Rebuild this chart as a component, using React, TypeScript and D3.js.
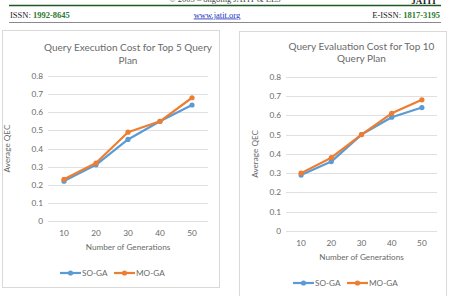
import React from 'react';
import * as d3 from 'd3';

// generations on the x axis
const generations = ['10', '20', '30', '40', '50'];
const yTicks = [0, 0.1, 0.2, 0.3, 0.4, 0.5, 0.6, 0.7, 0.8];

// Top 5 query plans
const top5SoGa = [0.22, 0.31, 0.45, 0.55, 0.64];
const top5MoGa = [0.23, 0.32, 0.49, 0.55, 0.68];

// Top 10 query plans
const top10SoGa = [0.29, 0.36, 0.50, 0.59, 0.64];
const top10MoGa = [0.30, 0.38, 0.50, 0.61, 0.68];

const seriesNames = ['SO-GA', 'MO-GA'];
const seriesColors = ['#5B9BD5', '#ED7D31'];

const FONT = 'Lato, "Open Sans", sans-serif';
const AXIS_GREY = '#6a6a6a';

type ChartProps = {
  box: { x: number; y: number; w: number; h: number };
  titleLines: string[];
  titleY: number[];
  plot: { left: number; right: number; top: number; bottom: number };
  xLabelY: number;
  xTitleY: number;
  yTitleX: number;
  legendY: number;
  legendX: number;
  series: number[][];
};

function LineChart(p: ChartProps) {
  const x = d3.scaleBand().domain(generations).range([p.plot.left, p.plot.right]);
  const y = d3.scaleLinear().domain([0, 0.8]).range([p.plot.bottom, p.plot.top]);
  const cx = (g: string) => (x(g) ?? 0) + x.bandwidth() / 2;
  const line = d3.line<number>().x((_, i) => cx(generations[i])).y(d => y(d));
  const midX = (p.plot.left + p.plot.right) / 2;

  return (
    <g>
      <rect x={p.box.x} y={p.box.y} width={p.box.w} height={p.box.h} fill="#fff" stroke="#d9d9d9" strokeWidth={1} />
      {p.titleLines.map((t, i) => (
        <text key={t} x={midX} y={p.titleY[i]} textAnchor="middle" fontFamily={FONT} fontSize={10} fill={AXIS_GREY}>{t}</text>
      ))}
      {yTicks.map(t => (
        <g key={t}>
          <line x1={p.plot.left} x2={p.plot.right} y1={Math.round(y(t)) + 0.5} y2={Math.round(y(t)) + 0.5} stroke="#e0e0e0" strokeWidth={1} />
          <text x={p.plot.left - 5} y={y(t) + 3} textAnchor="end" fontFamily={FONT} fontSize={8.3} fill={AXIS_GREY}>{t}</text>
        </g>
      ))}
      {generations.map(g => (
        <text key={g} x={cx(g)} y={p.xLabelY} textAnchor="middle" fontFamily={FONT} fontSize={8.3} fill={AXIS_GREY}>{g}</text>
      ))}
      <text x={midX} y={p.xTitleY} textAnchor="middle" fontFamily={FONT} fontSize={8.2} fill={AXIS_GREY}>Number of Generations</text>
      <text transform={`translate(${p.yTitleX},${(p.plot.top + p.plot.bottom) / 2}) rotate(-90)`} textAnchor="middle" fontFamily={FONT} fontSize={8.2} fill={AXIS_GREY}>Average QEC</text>
      {p.series.map((s, si) => (
        <g key={si}>
          <path d={line(s) ?? ''} fill="none" stroke={seriesColors[si]} strokeWidth={2.2} strokeLinejoin="round" />
          {s.map((v, i) => (
            <circle key={i} cx={cx(generations[i])} cy={y(v)} r={2.6} fill={seriesColors[si]} />
          ))}
        </g>
      ))}
      {seriesNames.map((n, i) => {
        const lx = p.legendX + i * 54;
        return (
          <g key={n}>
            <line x1={lx} x2={lx + 21} y1={p.legendY} y2={p.legendY} stroke={seriesColors[i]} strokeWidth={2.2} />
            <circle cx={lx + 10.5} cy={p.legendY} r={2.6} fill={seriesColors[i]} />
            <text x={lx + 22} y={p.legendY + 3} fontFamily={FONT} fontSize={8.2} fill={AXIS_GREY}>{n}</text>
          </g>
        );
      })}
    </g>
  );
}

export default function App() {
  return (
    <div style={{ position: 'fixed', left: 0, top: 0 }}>
      <svg width={452} height={296} style={{ display: 'block', background: '#fff' }}>
        {/* journal page header, top edge trimmed */}
        <text x={225} y={2} textAnchor="middle" fontFamily='"Liberation Serif", serif' fontSize={8.5} fill="#444">© 2005 – ongoing JATIT &amp; LLS</text>
        <text x={437} y={3.5} textAnchor="end" fontFamily='"Liberation Serif", serif' fontWeight="bold" fontSize={9} fill="#222">JATIT</text>
        <line x1={9} x2={441} y1={5.5} y2={5.5} stroke="#1e5a23" strokeWidth={1.6} />
        <text x={10} y={17.5} fontFamily='"Liberation Serif", serif' fontSize={8.5} fill="#222">
          ISSN: <tspan fill="#2d7a2d" fontWeight="bold">1992-8645</tspan>
        </text>
        <text x={217} y={17.5} textAnchor="middle" fontFamily='"Liberation Serif", serif' fontSize={8.5} fill="#2233bb" textDecoration="underline">www.jatit.org</text>
        <text x={440} y={17.5} textAnchor="end" fontFamily='"Liberation Serif", serif' fontSize={8.5} fill="#222">
          E-ISSN: <tspan fill="#2d7a2d" fontWeight="bold">1817-3195</tspan>
        </text>
        <line x1={9} x2={441} y1={22.5} y2={22.5} stroke="#8a8a8a" strokeWidth={1} />

        <LineChart
          box={{ x: 2.5, y: 30.5, w: 217, h: 257 }}
          titleLines={['Query Execution Cost for Top 5 Query', 'Plan']}
          titleY={[50.5, 64]}
          plot={{ left: 48, right: 208, top: 76, bottom: 221 }}
          xLabelY={236}
          xTitleY={250}
          yTitleX={10}
          legendY={273}
          legendX={60}
          series={[top5SoGa, top5MoGa]}
        />
        <LineChart
          box={{ x: 239.5, y: 31.5, w: 207, h: 270 }}
          titleLines={['Query Evaluation Cost for Top 10', 'Query Plan']}
          titleY={[49.5, 62]}
          plot={{ left: 286, right: 437, top: 76.7, bottom: 231 }}
          xLabelY={246}
          xTitleY={260}
          yTitleX={258}
          legendY={283}
          legendX={293}
          series={[top10SoGa, top10MoGa]}
        />
      </svg>
    </div>
  );
}
